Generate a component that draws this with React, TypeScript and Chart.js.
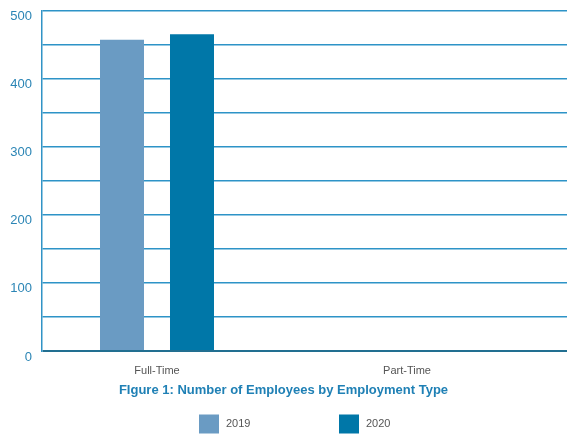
import React, { useEffect, useRef } from "react";
import { Chart, registerables } from "chart.js";

Chart.register(...registerables);

const categories = ["Full-Time", "Part-Time"];
const seriesLabels = ["2019", "2020"];
const values2019 = [457, 0];
const values2020 = [465, 0];
const seriesColors = ["#6a9bc3", "#0077a8"];
const yTicks = [0, 100, 200, 300, 400, 500];
const titleText = "FIgure 1: Number of Employees by Employment Type";

const FONT = '"Liberation Sans", Arial, Helvetica, sans-serif';

const legendPlugin = {
  id: "customLegend",
  afterDraw(chart: any) {
    const ctx = chart.ctx;
    const cx = chart.width / 2;
    ctx.save();
    chart.data.datasets.forEach((ds: any, i: number) => {
      const x = Math.round(cx - 84.5 + i * 140);
      const y = chart.height - 19.5;
      ctx.fillStyle = ds.backgroundColor;
      ctx.fillRect(x, y, 20, 19);
      ctx.fillStyle = "#555555";
      ctx.font = "11px " + FONT;
      ctx.textBaseline = "middle";
      ctx.textAlign = "left";
      ctx.fillText(ds.label, x + 27, y + 9.5);
    });
    ctx.restore();
  },
};

export default function App() {
  const ref = useRef<HTMLCanvasElement>(null);

  useEffect(() => {
    if (!ref.current) return;
    const data = [values2019, values2020];
    const chart = new Chart(ref.current, {
      type: "bar",
      data: {
        datasets: seriesLabels.map((label, s) => ({
          label,
          data: data[s].map((v, i) => ({ x: i, y: v })),
          backgroundColor: seriesColors[s],
          borderWidth: 0,
          categoryPercentage: 0.56,
          barPercentage: 0.6286,
        })),
      },
      options: {
        animation: false,
        responsive: true,
        maintainAspectRatio: false,
        layout: { padding: { top: 10.5, right: 0, left: 0, bottom: 35.4 } },
        plugins: {
          legend: { display: false },
          tooltip: { enabled: false },
          title: {
            display: true,
            position: "bottom",
            text: titleText,
            color: "#1f80b5",
            font: { family: FONT, size: 13, weight: "bold" },
            padding: { top: 2, bottom: 0 },
          },
        },
        scales: {
          x: {
            type: "linear",
            min: -0.46,
            max: 1.64,
            offset: false,
            grid: { display: false, drawTicks: false },
            border: { display: false },
            afterBuildTicks: (scale: any) => {
              scale.ticks = categories.map((_, i) => ({ value: i }));
            },
            afterFit: (scale: any) => {
              scale.height = 30;
              scale.paddingLeft = 0;
              scale.paddingRight = 0;
            },
            ticks: {
              autoSkip: false,
              maxRotation: 0,
              padding: 13,
              color: "#555555",
              font: { family: FONT, size: 11 },
              callback: (v: any) => categories[v] ?? "",
            },
          },
          y: {
            min: 0,
            max: 500,
            grid: {
              drawTicks: false,
              color: (c: any) => (c.tick && c.tick.value === 0 ? "#226f91" : "#2d93c7"),
              lineWidth: (c: any) => (c.tick && c.tick.value === 0 ? 2 : 1.5),
            },
            border: { display: true, color: "#3193c6", width: 1.5 },
            afterFit: (scale: any) => {
              scale.width = 42;
              scale.paddingTop = 0;
              scale.paddingBottom = 0;
            },
            ticks: {
              stepSize: 50,
              padding: 10,
              labelOffset: 6,
              color: "#2b85b5",
              font: { family: FONT, size: 13 },
              callback: (v: any) => (yTicks.includes(Number(v)) ? String(v) : ""),
            },
          },
        },
      },
      plugins: [legendPlugin],
    });
    return () => chart.destroy();
  }, []);

  return (
    <div style={{ position: "absolute", left: 0, top: 0, width: 567, height: 434 }}>
      <canvas ref={ref} />
    </div>
  );
}
